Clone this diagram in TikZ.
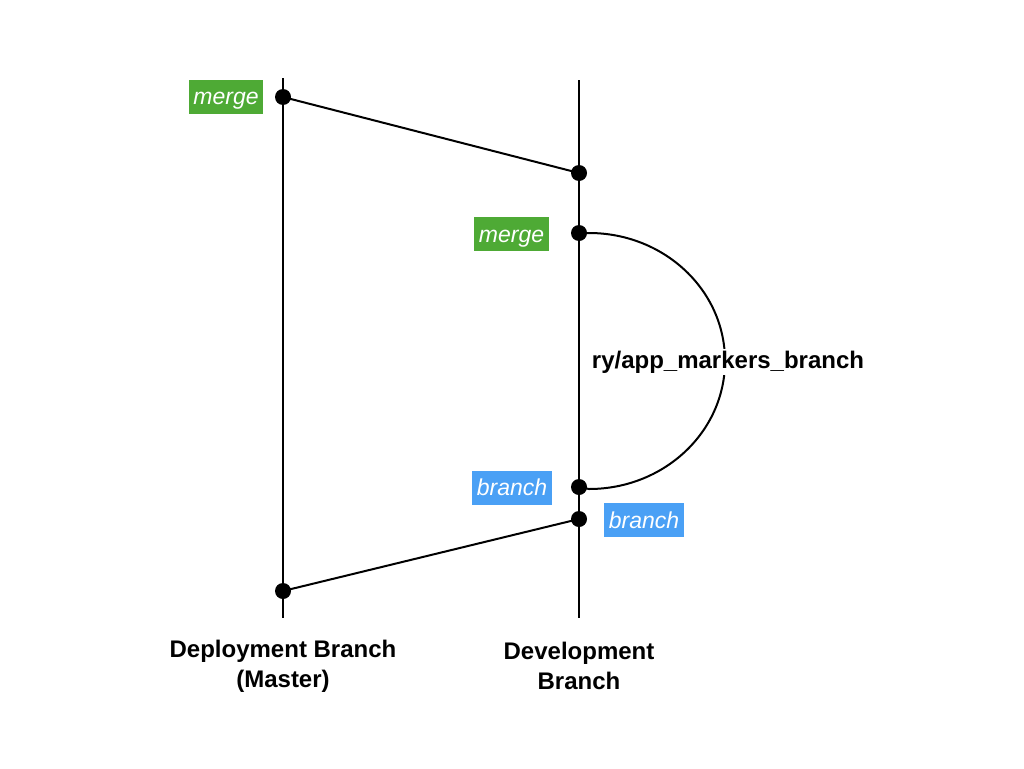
\documentclass[tikz,border=0pt]{standalone}
\usepackage{fontspec}
\setmainfont{Liberation Sans}
\definecolor{mgreen}{HTML}{4EAA35}
\definecolor{bblue}{HTML}{4AA0F5}
\begin{document}
\begin{tikzpicture}[x=1pt,y=-1pt,
  dot/.style={circle,fill=black,inner sep=0pt,minimum size=16pt},
  branchline/.style={line width=2pt},
  tag/.style={text=white,font=\fontsize{23}{26}\selectfont\itshape,inner xsep=4.5pt,inner ysep=0pt,text height=18pt,text depth=2pt,minimum height=34pt},
  mergetag/.style={tag,fill=mgreen},
  branchtag/.style={tag,fill=bblue},
  title/.style={font=\fontsize{24}{30}\selectfont\bfseries,align=center}]
\useasboundingbox[fill=white] (0,0) rectangle (1024,768);
% branch lines
\coordinate (Ltop) at (283,78);
\coordinate (Lbot) at (283,618);
\coordinate (Rtop) at (579,80);
\coordinate (Rbot) at (579,618);
\draw[branchline] (Ltop) -- (Lbot);
\draw[branchline] (Rtop) -- (Rbot);
% dots
\node[dot] (m1) at (283,97) {};
\node[dot] (d1) at (579,173) {};
\node[dot] (m2) at (579,233) {};
\node[dot] (b1) at (579,487) {};
\node[dot] (b2) at (579,519) {};
\node[dot] (d2) at (283,591) {};
% connectors
\draw[branchline] (m1.center) -- (d1.center);
\draw[branchline] (d2.center) -- (b2.center);
\draw[branchline] (m2.center) -- (589,233) .. controls (664,233) and (725,290) .. (725,361)
  .. controls (725,432) and (664,489) .. (589,489) -- (b1.center);
\node[title,fill=white,inner sep=2pt] (feat) at (728,362) {ry/app\_markers\_branch};
% tags
\node[mergetag] (tm1) at (226,96.5) {merge};
\node[mergetag] (tm2) at (511.5,234) {merge};
\node[branchtag] (tb1) at (512,487.5) {branch};
\node[branchtag] (tb2) at (644,520) {branch};
% titles
\node[title] (dep) at (283,666) {Deployment Branch\\(Master)};
\node[title] (dev) at (579,666) {Development\\Branch};
\end{tikzpicture}
\end{document}
